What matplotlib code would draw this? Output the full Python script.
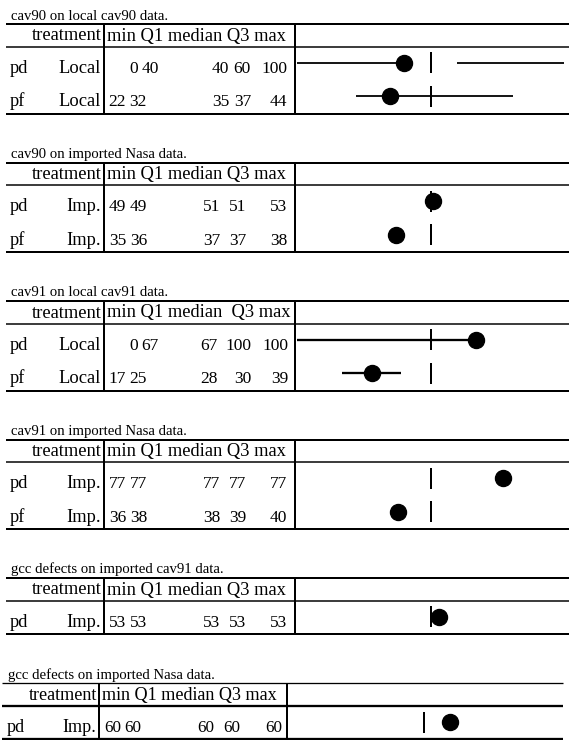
"""Quartile summary tables for pd/pf results."""

import matplotlib

matplotlib.use("Agg")
import matplotlib.pyplot as plt

W, H = 569, 740
PX = 0.72  # points per pixel at dpi 100

titles = [
    "cav90 on local cav90 data.",
    "cav90 on imported Nasa data.",
    "cav91 on local cav91 data.",
    "cav91 on imported Nasa data.",
    "gcc defects on imported cav91 data.",
    "gcc defects on imported Nasa data.",
]
headers = [
    "min Q1 median Q3 max",
    "min Q1 median Q3 max",
    "min Q1 median  Q3 max",
    "min Q1 median Q3 max",
    "min Q1 median Q3 max",
    "min Q1 median Q3 max",
]
measures = [["pd", "pf"], ["pd", "pf"], ["pd", "pf"], ["pd", "pf"], ["pd"], ["pd"]]
sources = ["Local", "Imp.", "Local", "Imp.", "Imp.", "Imp."]

mins = [[0, 22], [49, 35], [0, 17], [77, 36], [53], [60]]
q1s = [[40, 32], [49, 36], [67, 25], [77, 38], [53], [60]]
medians = [[40, 35], [51, 37], [67, 28], [77, 38], [53], [60]]
q3s = [[60, 37], [51, 37], [100, 30], [77, 39], [53], [60]]
maxs = [[100, 44], [53, 38], [100, 39], [77, 40], [53], [60]]
# upper whisker end as it is drawn (cav90 local pf runs well past its max)
drawn_max = [[100, 81], [53, 38], [100, 39], [77, 40], [53], [60]]

plt.rcParams["font.family"] = ["Liberation Serif", "DejaVu Serif"]

fig = plt.figure(figsize=(W / 100, H / 100), dpi=100)
base = fig.add_axes([0, 0, 1, 1])
base.set_xlim(0, W)
base.set_ylim(H, 0)
base.axis("off")

TITLE_FS = 10.6
TABLE_FS = 13.3
NUM_FS = 12.5
HEAD_H = 22.7
ROW_H = 33.4
GAP = 49

# per block horizontal layout: scale / offset of the table, chart span, rule span
x_scale = [1, 1, 1, 1, 1, 0.983]
x_off = [0, 0, 0, 0, 0, -2.9]
chart_x0 = [297, 297, 297, 297, 297, 292]
chart_x1 = [564, 564, 564, 564, 564, 556]
rule_x0 = [6, 6, 6, 6, 6, 2]
rule_x1 = [569, 569, 569, 569, 569, 563]
top_lw = [2, 2, 2, 2, 2, 1.3]
head_lw = [1.5, 1.5, 1.5, 1.5, 1.5, 2.3]
bot_lw = [2, 2, 2, 2, 2, 2.3]
whisker_lw = [1.8, 1.8, 2.3, 1.8, 1.8, 1.8]
# right edges of the five number columns in each block
num_right = [
    [126, 147, 229, 251, 287],
    [126, 147, 220, 246, 287],
    [126, 147, 218, 251, 288],
    [126, 147, 220, 246, 287],
    [126, 147, 220, 246, 287],
    [126, 147, 221, 247, 290],
]


def hline(y, x0, x1, lw):
    base.plot([x0, x1], [y, y], color="black", lw=lw * PX, solid_capstyle="butt")


def vline(x, y0, y1, lw):
    base.plot([x, x], [y0, y1], color="black", lw=lw * PX, solid_capstyle="butt")


top = 24
for b, title in enumerate(titles):
    n = len(measures[b])
    bottom = top + HEAD_H + ROW_H * n

    def bx(x):
        return x * x_scale[b] + x_off[b]

    fs = TABLE_FS * x_scale[b]
    nfs = NUM_FS * x_scale[b]

    base.text(bx(11), top - 4.5, title, fontsize=TITLE_FS, va="baseline", ha="left")

    hline(top, rule_x0[b], rule_x1[b], top_lw[b])
    hline(top + HEAD_H, rule_x0[b], rule_x1[b], head_lw[b])
    hline(bottom, rule_x0[b], rule_x1[b], bot_lw[b])
    vline(bx(104), top, bottom, 2)
    vline(bx(295), top, bottom, 2)

    base.text(bx(101.5), top + 16.5, "treatment", fontsize=fs, ha="right", va="baseline")
    base.text(bx(107), top + 16.5, headers[b], fontsize=fs, ha="left", va="baseline")

    rights = num_right[b]
    for i, name in enumerate(measures[b]):
        yb = top + HEAD_H + ROW_H * i + 26
        base.text(bx(10), yb, name, fontsize=fs, ha="left", va="baseline")
        base.text(bx(100.5), yb, sources[b], fontsize=fs, ha="right", va="baseline")
        vals = [mins[b][i], q1s[b][i], medians[b][i], q3s[b][i], maxs[b][i]]
        shift = 12 if vals[0] < 10 else 0
        for k, v in enumerate(vals):
            xr = rights[k] + (shift if k < 2 else 0)
            base.text(bx(xr), yb, str(v), fontsize=nfs, ha="right", va="baseline")

    # quartile sketch
    ax = fig.add_axes([
        chart_x0[b] / W,
        1 - bottom / H,
        (chart_x1[b] - chart_x0[b]) / W,
        (bottom - top) / H,
    ])
    ax.set_xlim(0, 100)
    ax.set_ylim(bottom, top)
    ax.axis("off")
    for i in range(n):
        y = top + HEAD_H + ROW_H * i + 16.2
        lo, q1, med = mins[b][i], q1s[b][i], medians[b][i]
        q3, hi = q3s[b][i], drawn_max[b][i]
        lw = whisker_lw[b] * PX
        if q1 > lo:
            ax.plot([lo, q1], [y, y], color="black", lw=lw, solid_capstyle="butt", clip_on=False)
        if hi > q3:
            ax.plot([q3, hi], [y, y], color="black", lw=lw, solid_capstyle="butt", clip_on=False)
        ax.plot([50, 50], [y - 10.5, y + 10.5], color="black", lw=2 * PX, solid_capstyle="butt", clip_on=False)
        ax.plot([med], [y], "o", color="black", ms=16 * PX, mec="black", clip_on=False)

    top = bottom + GAP

fig.savefig("out.png", dpi=100)
plt.close(fig)
